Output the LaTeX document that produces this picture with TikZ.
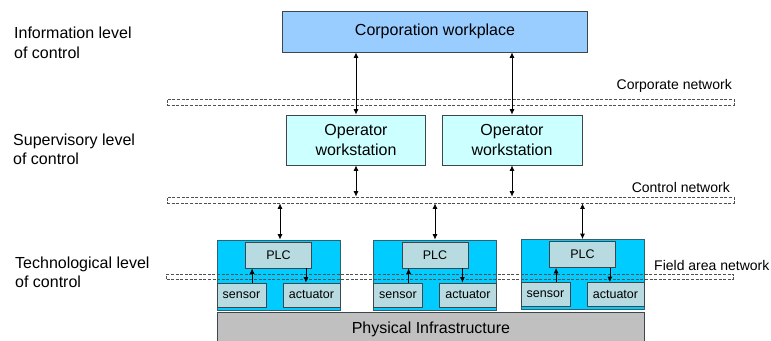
\documentclass[tikz,border=0pt]{standalone}
\usepackage{fontspec}
\setmainfont{Liberation Sans}
\usetikzlibrary{arrows.meta}
\definecolor{corpblue}{RGB}{153,204,255}
\definecolor{opcyan}{RGB}{204,255,255}
\definecolor{fieldblue}{RGB}{0,204,255}
\definecolor{plcgrey}{RGB}{183,219,224}
\definecolor{physgrey}{RGB}{192,192,192}
\definecolor{bordc}{RGB}{60,70,75}
\definecolor{netc}{RGB}{80,80,80}
\tikzset{
  box/.style={draw=bordc, line width=0.8pt, rectangle, inner sep=0pt, align=center},
  bigtxt/.style={font=\fontsize{16}{19.5}\selectfont},
  smalltxt/.style={font=\fontsize{12.5}{14}\selectfont},
  nettxt/.style={font=\fontsize{14}{16}\selectfont, inner sep=0pt},
  leveltxt/.style={font=\fontsize{16}{19.5}\selectfont, inner sep=0pt, align=left, anchor=west},
  net/.style={draw=netc, line width=0.7pt, dash pattern=on 3pt off 1.6pt, rectangle, inner sep=0pt, minimum width=567pt},
  arr/.style={line width=0.8pt, -{Latex[length=5.5pt,width=5pt]}},
  darr/.style={line width=0.8pt, {Latex[length=5.5pt,width=5pt]}-{Latex[length=5.5pt,width=5pt]}},
  fieldbox/.style={box, fill=fieldblue, draw=bordc!80!fieldblue, minimum width=123pt, minimum height=70pt},
  plcbox/.style={box, fill=plcgrey, smalltxt, minimum width=66pt, minimum height=26pt},
  sensbox/.style={box, fill=plcgrey, smalltxt, minimum width=49pt, minimum height=24pt},
  actbox/.style={box, fill=plcgrey, smalltxt, minimum width=57pt, minimum height=24pt},
}
\begin{document}
\begin{tikzpicture}[x=1pt, y=-1pt]
\useasboundingbox (0,0) rectangle (771,340);

% level labels
\node[leveltxt] (lvinfo) at (14,43) {Information level\\of control};
\node[leveltxt] (lvsup) at (13,149.5) {Supervisory level\\of control};
\node[leveltxt] (lvtech) at (15,272.5) {Technological level\\of control};

% corporation
\node[box, fill=corpblue, bigtxt, minimum width=305pt, minimum height=41pt] (corp) at (435,31.5) {Corporation workplace};

% corporate network
\node[net, minimum height=6pt] (cornet) at (450.5,102) {};
\node[nettxt, anchor=east] (cornetlbl) at (732,86) {Corporate network};

% operator workstations
\node[box, fill=opcyan, bigtxt, minimum width=139pt, minimum height=50pt] (op1) at (356,140) {Operator\\workstation};
\node[box, fill=opcyan, bigtxt, minimum width=140pt, minimum height=50pt] (op2) at (512,140) {Operator\\workstation};

% control network
\node[net, minimum height=6pt] (cnet) at (450.5,200) {};
\node[nettxt, anchor=east] (cnetlbl) at (730,187) {Control network};

% field boxes
\node[fieldbox] (fb1) at (278.5,275) {};
\node[fieldbox] (fb2) at (435,275) {};
\node[fieldbox] (fb3) at (582.5,274.5) {};

% field area network
\node[net, minimum height=5pt] (fnet) at (450,276.5) {};
\node[nettxt, anchor=west] (fnetlbl) at (654,265) {Field area network};

% PLCs, sensors, actuators
\foreach \i in {1,2,3}{
  \node[plcbox, anchor=north] (plc\i) at ([yshift=-2pt]fb\i.north) {PLC};
  \node[sensbox, anchor=south west] (sens\i) at ([yshift=3pt]fb\i.south west) {sensor};
  \node[actbox, anchor=south east] (act\i) at ([yshift=3pt]fb\i.south east) {actuator};
  \draw[arr] ([xshift=7pt]plc\i.south west |- sens\i.north) -- ([xshift=7pt]plc\i.south west);
  \draw[arr] ([xshift=-6pt]plc\i.south east) -- ([xshift=-6pt]plc\i.south east |- act\i.north);
}

% physical infrastructure
\node[box, fill=physgrey, bigtxt, anchor=north west, minimum width=427pt, minimum height=34pt] (phys) at (217,312) {\raisebox{2pt}{Physical Infrastructure}};

% arrows corp <-> operator
\draw[darr] (corp.south -| op1.north) -- (op1.north);
\draw[darr] (corp.south -| op2.north) -- (op2.north);
% operator <-> control network
\draw[darr] (op1.south) -- (op1.south |- cnet.north);
\draw[darr] (op2.south) -- (op2.south |- cnet.north);
% control network <-> field boxes
\draw[darr] ([xshift=1.5pt]fb1.north |- cnet.south) -- ([xshift=1.5pt]fb1.north);
\draw[darr] (fb2.north |- cnet.south) -- (fb2.north);
\draw[darr] (fb3.north |- cnet.south) -- (fb3.north);
\end{tikzpicture}
\end{document}
